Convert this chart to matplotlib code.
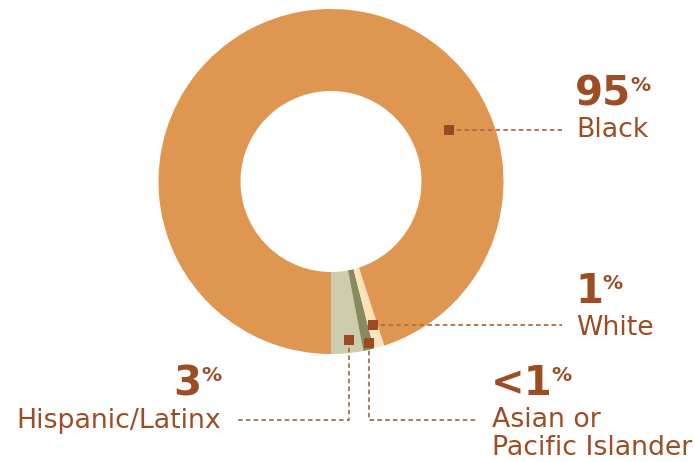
import matplotlib
matplotlib.use("Agg")
import matplotlib.pyplot as plt

# share of students by race/ethnicity
groups = ["Hispanic/Latinx", "Asian or\nPacific Islander", "White", "Black"]
shares = [3, 1, 1, 95]
pct_text = ["3", "<1", "1", "95"]
slice_colors = ["#cdcdae", "#868a5e", "#fde2bc", "#df9651"]

text_col = "#9c4d24"
line_col = "#b06c45"
plt.rcParams["font.family"] = ["DejaVu Sans"]

fig = plt.figure(figsize=(6.95, 4.62), dpi=100)
ax = fig.add_axes([0, 0, 1, 1])

ax.pie(shares, colors=slice_colors, startangle=90, counterclock=False,
       center=(331, 181.5), radius=172.5,
       wedgeprops=dict(width=82, linewidth=0))
ax.set_xlim(0, 695)
ax.set_ylim(462, 0)
ax.set_aspect("equal")
ax.axis("off")

# leader lines: marker point, then path to label
leaders = {
    "Black": [(449, 130), (562, 130)],
    "White": [(373, 325), (562, 325)],
    "Hispanic/Latinx": [(349, 340), (349, 420), (235, 420)],
    "Asian or\nPacific Islander": [(369, 343), (369, 420), (477, 420)],
}
for g in groups:
    pts = leaders[g]
    xs = [p[0] for p in pts]
    ys = [p[1] for p in pts]
    ax.plot(xs, ys, color=line_col, lw=1.3, ls=(0, (2.5, 1.8)), zorder=3)
for g in groups:
    x0, y0 = leaders[g][0]
    ax.plot(x0, y0, marker="s", ms=7.5, color="#9c4a22", mew=0, zorder=4)

renderer = fig.canvas.get_renderer()
big = 29
sup = 14.5
lab = 19.3


def pct_left(x, y, s):
    t = ax.text(x, y, s, fontsize=big, fontweight="bold", color=text_col,
                ha="left", va="baseline")
    bb = t.get_window_extent(renderer)
    xd, _ = ax.transData.inverted().transform((bb.x1, 0))
    ax.text(xd - 1, y - 14, "%", fontsize=sup, fontweight="bold",
            color=text_col, ha="left", va="baseline")


def pct_right(x, y, s):
    p = ax.text(x, y - 14, "%", fontsize=sup, fontweight="bold",
                color=text_col, ha="right", va="baseline")
    bb = p.get_window_extent(renderer)
    xd, _ = ax.transData.inverted().transform((bb.x0, 0))
    ax.text(xd + 1, y, s, fontsize=big, fontweight="bold", color=text_col,
            ha="right", va="baseline")


pct_left(575, 105, pct_text[3])
ax.text(576, 137, groups[3], fontsize=lab, color=text_col, ha="left", va="baseline")

pct_left(575, 303, pct_text[2])
ax.text(576, 335, groups[2], fontsize=lab, color=text_col, ha="left", va="baseline")

pct_left(491, 395, pct_text[1])
for i, line in enumerate(groups[1].split("\n")):
    ax.text(492, 427 + 28 * i, line, fontsize=lab, color=text_col, ha="left",
            va="baseline")

pct_right(221, 395, pct_text[0])
ax.text(221, 428, groups[0], fontsize=lab, color=text_col, ha="right", va="baseline")

fig.savefig("out.png", dpi=100)
